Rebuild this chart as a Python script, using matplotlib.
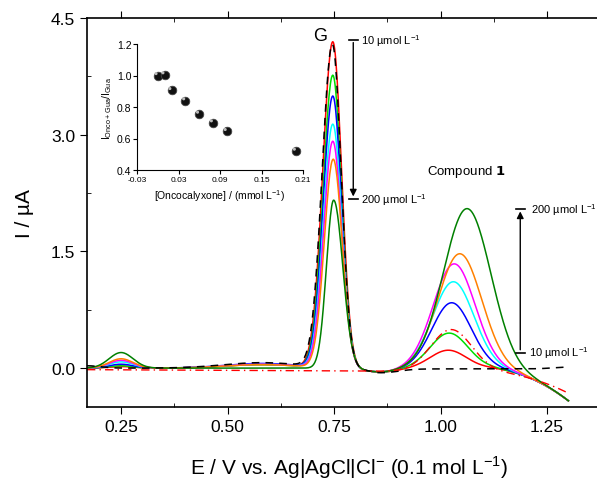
import numpy as np
import matplotlib
matplotlib.use('Agg')
import matplotlib.pyplot as plt
from matplotlib.ticker import MultipleLocator, FormatStrFormatter

plt.rcParams['font.family'] = ['Liberation Sans', 'DejaVu Sans']
plt.rcParams['mathtext.fontset'] = 'custom'
plt.rcParams['mathtext.rm'] = 'Liberation Sans'

# oncocalyxone additions (umol/L) and their curve colours
conc = [10, 20, 40, 60, 80, 100, 200]
colors = ['red', '#00dd00', 'blue', 'cyan', 'magenta', '#ff8000', 'green']

# guanine oxidation peak (~0.75 V)
gua_height = [4.19, 3.76, 3.49, 3.13, 2.91, 2.68, 2.16]
gua_center = [0.747, 0.747, 0.747, 0.747, 0.747, 0.748, 0.749]
gua_sig_left = [0.0235, 0.023, 0.0225, 0.022, 0.0215, 0.021, 0.017]
gua_sig_right = [0.0205, 0.0205, 0.0205, 0.021, 0.021, 0.021, 0.0215]

# compound 1 peak (~1.0 V)
cmp_height = [0.23, 0.45, 0.84, 1.11, 1.34, 1.47, 2.05]
cmp_center = [1.018, 1.02, 1.026, 1.03, 1.032, 1.045, 1.062]
cmp_sigma = [0.042, 0.044, 0.046, 0.048, 0.049, 0.051, 0.055]

# small peak near 0.25 V
low_height = [0.02, 0.03, 0.05, 0.08, 0.10, 0.12, 0.20]
# shoulder before the guanine peak
shoulder = [0.045, 0.045, 0.06, 0.05, 0.05, 0.045, 0.0]

# guanine alone (dashed) and compound 1 alone (dash-dot)
gua_only_height = 4.15
gua_only_shoulder = 0.07
cmp_only_height = 0.54
cmp_only_center = 1.025

# inset: ratio of guanine current with/without oncocalyxone
onco_mmol = [0.0, 0.01, 0.02, 0.04, 0.06, 0.08, 0.10, 0.20]
ratio = [1.0, 1.005, 0.905, 0.84, 0.755, 0.70, 0.645, 0.52]

E = np.linspace(0.17, 1.30, 800)


def gauss(x, h, c, s):
    return h * np.exp(-(x - c) ** 2 / (2 * s ** 2))


def split_gauss(x, h, c, sl, sr):
    s = np.where(x < c, sl, sr)
    return h * np.exp(-(x - c) ** 2 / (2 * s ** 2))


def tail(x, depth):
    t = np.clip((x - 1.1) / 0.2, 0, None)
    return -depth * t ** 2


def dip(x, d=0.05):
    return gauss(x, -d, 0.86, 0.04)


fig = plt.figure(figsize=(5.97, 4.81), dpi=100)
ax = fig.add_axes([87 / 597, 73 / 481, 524 / 597, 389 / 481])

for i in range(len(conc)):
    I = (gauss(E, low_height[i], 0.25, 0.028)
         + gauss(E, shoulder[i], 0.58, 0.085)
         + split_gauss(E, gua_height[i], gua_center[i], gua_sig_left[i], gua_sig_right[i])
         + gauss(E, cmp_height[i], cmp_center[i], cmp_sigma[i])
         + dip(E) + tail(E, 0.42))
    ax.plot(E, I, color=colors[i], lw=1.1)

I_gua = (gauss(E, 0.03, 0.17, 0.03) + gauss(E, gua_only_shoulder, 0.58, 0.09)
         + split_gauss(E, gua_only_height, 0.746, 0.024, 0.0205)
         + dip(E) - 0.01 * (E > 0.85) + gauss(E, 0.025, 1.31, 0.04))
ax.plot(E, I_gua, color='black', ls=(0, (5, 4)), lw=1.1)

I_cmp = (-0.02 - 0.02 * (E - 0.17) / 0.7
         + gauss(E, cmp_only_height, cmp_only_center, 0.048) + tail(E, 0.27))
ax.plot(E, I_cmp, color='red', ls=(0, (6, 3, 1, 3)), lw=1.0)

ax.set_xlim(0.17, 1.40)
ax.set_ylim(-0.5, 4.5)
ax.set_xticks([0.25, 0.50, 0.75, 1.00, 1.25])
ax.xaxis.set_major_formatter(FormatStrFormatter('%.2f'))
ax.xaxis.set_minor_locator(MultipleLocator(0.125))
ax.yaxis.set_major_locator(MultipleLocator(1.5))
ax.yaxis.set_minor_locator(MultipleLocator(0.75))
ax.yaxis.set_major_formatter(FormatStrFormatter('%.1f'))
ax.tick_params(which='major', direction='out', length=5, labelsize=12.5)
ax.tick_params(which='minor', direction='in', length=3)
ax.tick_params(which='both', top=True, labeltop=False)
for s in ax.spines.values():
    s.set_linewidth(1.2)

ax.set_xlabel(r'E / V vs. Ag|AgCl|Cl$^{\mathregular{-}}$ (0.1 mol L$^{\mathregular{-1}}$)',
              fontsize=15, labelpad=14)
ax.set_ylabel('I / µA', fontsize=15, labelpad=12)

# guanine arrow
ax.annotate('', xy=(0.795, 2.17), xytext=(0.795, 4.22),
            arrowprops=dict(arrowstyle='-|>', color='black', lw=1.0, mutation_scale=10))
ax.plot([0.784, 0.806], [4.22, 4.22], color='black', lw=1.2)
ax.plot([0.784, 0.806], [2.17, 2.17], color='black', lw=1.2)
ax.text(0.814, 4.22, r'10 µmol L$^{\mathregular{-1}}$', fontsize=8, va='center')
ax.text(0.814, 2.17, r'200 µmol L$^{\mathregular{-1}}$', fontsize=8, va='center')
ax.text(0.70, 4.28, 'G', fontsize=13, va='center')

# compound 1 arrow
ax.annotate('', xy=(1.187, 2.05), xytext=(1.187, 0.20),
            arrowprops=dict(arrowstyle='-|>', color='black', lw=1.0, mutation_scale=10))
ax.plot([1.176, 1.198], [2.05, 2.05], color='black', lw=1.2)
ax.plot([1.176, 1.198], [0.20, 0.20], color='black', lw=1.2)
ax.text(1.212, 2.05, r'200 µmol L$^{\mathregular{-1}}$', fontsize=8, va='center')
ax.text(1.207, 0.20, r'10 µmol L$^{\mathregular{-1}}$', fontsize=8, va='center')
ax.text(1.06, 2.53, r'Compound $\mathbf{1}$', fontsize=9.5, ha='center', va='center')

# inset
ins = fig.add_axes([137 / 597, 310 / 481, 166 / 597, 126 / 481])
ins.scatter(onco_mmol, ratio, s=38, color='#111111', edgecolors='#444444', linewidths=0.6, zorder=3)
ins.scatter(np.array(onco_mmol) - 0.0025, np.array(ratio) + 0.012, s=5, color='#bbbbbb',
            edgecolors='none', zorder=4)
ins.set_xlim(-0.03, 0.21)
ins.set_ylim(0.4, 1.2)
ins.set_xticks([-0.03, 0.03, 0.09, 0.15, 0.21])
ins.xaxis.set_major_formatter(FormatStrFormatter('%.2f'))
ins.set_yticks([0.4, 0.6, 0.8, 1.0, 1.2])
ins.yaxis.set_major_formatter(FormatStrFormatter('%.1f'))
ins.spines['top'].set_visible(False)
ins.spines['right'].set_visible(False)
ins.patch.set_alpha(0)
ins.tick_params(axis='x', labelsize=6, length=3, pad=1)
ins.tick_params(axis='y', labelsize=7.5, length=3, pad=1)
ins.set_xlabel(r'[Oncocalyxone] / (mmol L$^{\mathregular{-1}}$)', fontsize=7.5, labelpad=3)
ins.set_ylabel(r'I$_{\mathregular{Onco+Gua}}$/I$_{\mathregular{Gua}}$', fontsize=7.5, labelpad=2)

fig.savefig('out.png', dpi=100)
